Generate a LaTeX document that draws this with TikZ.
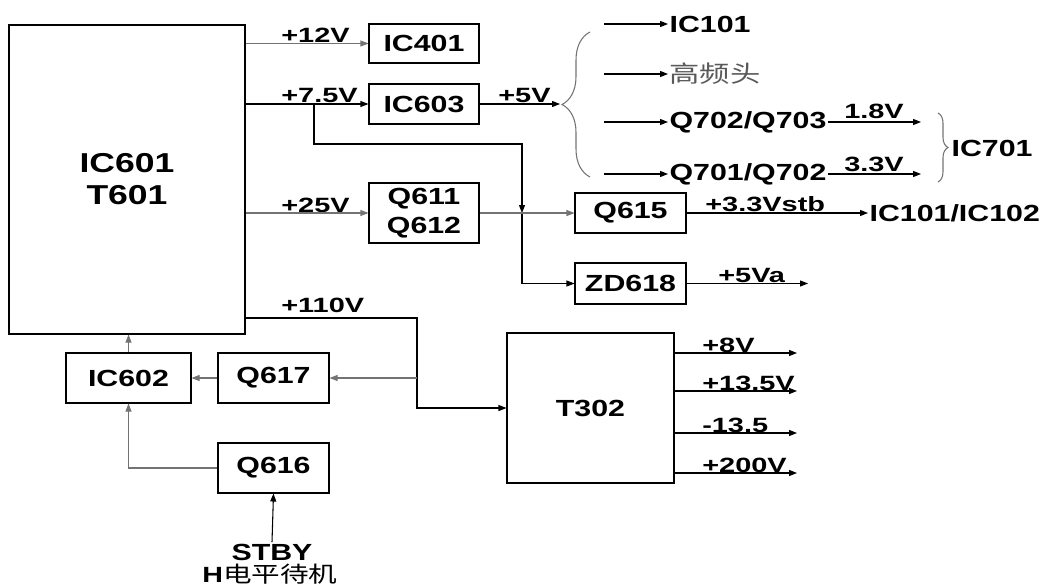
\documentclass[tikz,border=0pt]{standalone}
\usepackage{fontspec}
\setmainfont{Liberation Sans}[FakeStretch=1.3]
\newfontfamily\labfont{Liberation Sans}[FakeStretch=1.4]
\newfontfamily\cjk{Noto Sans CJK SC}[FakeStretch=1.3]
\usetikzlibrary{arrows.meta,decorations.pathreplacing}

\begin{document}
\begin{tikzpicture}[x=0.75pt, y=-0.75pt,
  font=\bfseries\fontsize{17.5}{21}\selectfont,
  box/.style={draw, line width=0.8pt, inner sep=0pt, align=center},
  lab/.style={font=\labfont\bfseries\fontsize{15.5}{18}\selectfont, anchor=base west, inner sep=0pt},
  tgt/.style={anchor=west, inner sep=1pt},
  arrow/.style={-{Triangle[length=6pt,width=4.5pt]}, line width=0.8pt},
  garrow/.style={arrow, draw=black!55},
  brace/.style={decorate, draw=black!55, line width=0.8pt}
]
\useasboundingbox (0,0) rectangle (1052,585);

% blocks
\node[box, minimum width=177pt, minimum height=231.75pt,
  font=\bfseries\fontsize{20.5}{24}\selectfont] (main) at (127,179.5) {IC601\\T601};
\node[box, minimum width=82.5pt, minimum height=29.25pt] (ic401) at (424,43.5) {IC401};
\node[box, minimum width=82.5pt, minimum height=30pt] (ic603) at (424,104) {IC603};
\node[box, minimum width=82.5pt, minimum height=45pt,
  font=\bfseries\fontsize{17.5}{22}\selectfont] (q611) at (424,213) {Q611\\Q612};
\node[box, minimum width=83.25pt, minimum height=30pt] (q615) at (630.5,213) {Q615};
\node[box, minimum width=83.25pt, minimum height=30.75pt] (zd618) at (630.5,283.5) {ZD618};
\node[box, minimum width=125.25pt, minimum height=112.5pt] (t302) at (590.5,408) {T302};
\node[box, minimum width=93.75pt, minimum height=37.5pt] (ic602) at (128.5,378) {IC602};
\node[box, minimum width=83.25pt, minimum height=37.5pt] (q617) at (273.5,378) {Q617};
\node[box, minimum width=83.25pt, minimum height=37.5pt] (q616) at (273.5,468) {Q616};

% loads
\node[tgt] (ic101t) at (668,24) {IC101};
\node[tgt, font=\cjk\fontsize{17.5}{21}\selectfont, text=black!65] (tunert) at (668,74) {高频头};
\node[tgt] (q703t) at (668,122) {Q702/Q703};
\node[tgt] (q702t) at (668,174) {Q701/Q702};
\node[tgt] (ic701t) at (950,148) {IC701};
\node[tgt] (ic102t) at (868,213) {IC101/IC102};
\node[anchor=base, inner sep=1pt] (stby) at (272,560) {STBY};
\node[anchor=base, inner sep=0pt, font=\bfseries\fontsize{16.5}{18}\selectfont] (stbyh) at (270,582)
  {H{\mdseries\cjk 电平待机}};

% voltage labels
\node[lab] (l12) at (281,43) {+12V};
\node[lab] (l75) at (281,102) {+7.5V};
\node[lab] (l25) at (281,212) {+25V};
\node[lab] (l110) at (281,312) {+110V};
\node[lab] (l5) at (498,102) {+5V};
\node[lab] (l18) at (844,118) {1.8V};
\node[lab] (l33) at (844,171) {3.3V};
\node[lab] (lstb) at (705,211) {+3.3Vstb};
\node[lab] (l5a) at (718,282) {+5Va};

\coordinate (b75) at (314,104);
\coordinate (b75r) at (522,144);
\coordinate (x75) at (522,213);
\coordinate (j110) at (417,318);
\coordinate (btip) at (560,104);
\coordinate (bx) at (604,0);
\coordinate (bend) at (921,0);
\coordinate (o5va) at (808,0);
\coordinate (tout) at (797,0);

% supply lines
\draw[garrow] (ic401 -| main.east) -- (ic401.west);
\draw[arrow] (ic603 -| main.east) -- (ic603.west);
\draw[garrow] (q611 -| main.east) -- (q611.west);
\draw[arrow] (b75) |- (b75r) -- (x75);
\draw[arrow] (x75) |- (zd618.west);
\draw[garrow] (q611.east) -- (q615.west);
\draw[arrow] (q615.east) -- (ic102t.west);
\draw[arrow] (zd618.east) -- (zd618.east -| o5va);
\draw[arrow] (ic603.east) -- (btip);

% +5V branches
\draw[brace, decoration={brace, amplitude=21pt}] (590,177) -- (590,32);
\draw[arrow] (ic101t -| bx) -- (ic101t.west);
\draw[arrow] (tunert -| bx) -- (tunert.west);
\draw[arrow] (q703t -| bx) -- (q703t.west);
\draw[arrow] (q702t -| bx) -- (q702t.west);
\draw[arrow] (q703t.east) -- (q703t.east -| bend);
\draw[arrow] (q702t.east) -- (q702t.east -| bend);
\draw[brace, decoration={brace, amplitude=7.5pt}] (938,113) -- (938,182);

% T302
\draw[arrow] (j110 -| main.east) -- (j110) |- (t302.west);
\foreach \y/\v in {353/+8V, 391/+13.5V, 433/-13.5, 473/+200V} {
  \node[lab] at (702,\y-1) {\v};
  \draw[arrow] (t302.east |- 0,\y) -- (tout |- 0,\y);
}

% standby control
\draw[garrow] (j110 |- q617) -- (q617.east);
\draw[garrow] (q617.west) -- (ic602.east);
\draw[garrow] (ic602.north) -- (ic602.north |- main.south);
\draw[garrow] (q616.west) -| (ic602.south);
\draw[arrow] (stby.north) -- (q616.south);
\end{tikzpicture}
\end{document}
